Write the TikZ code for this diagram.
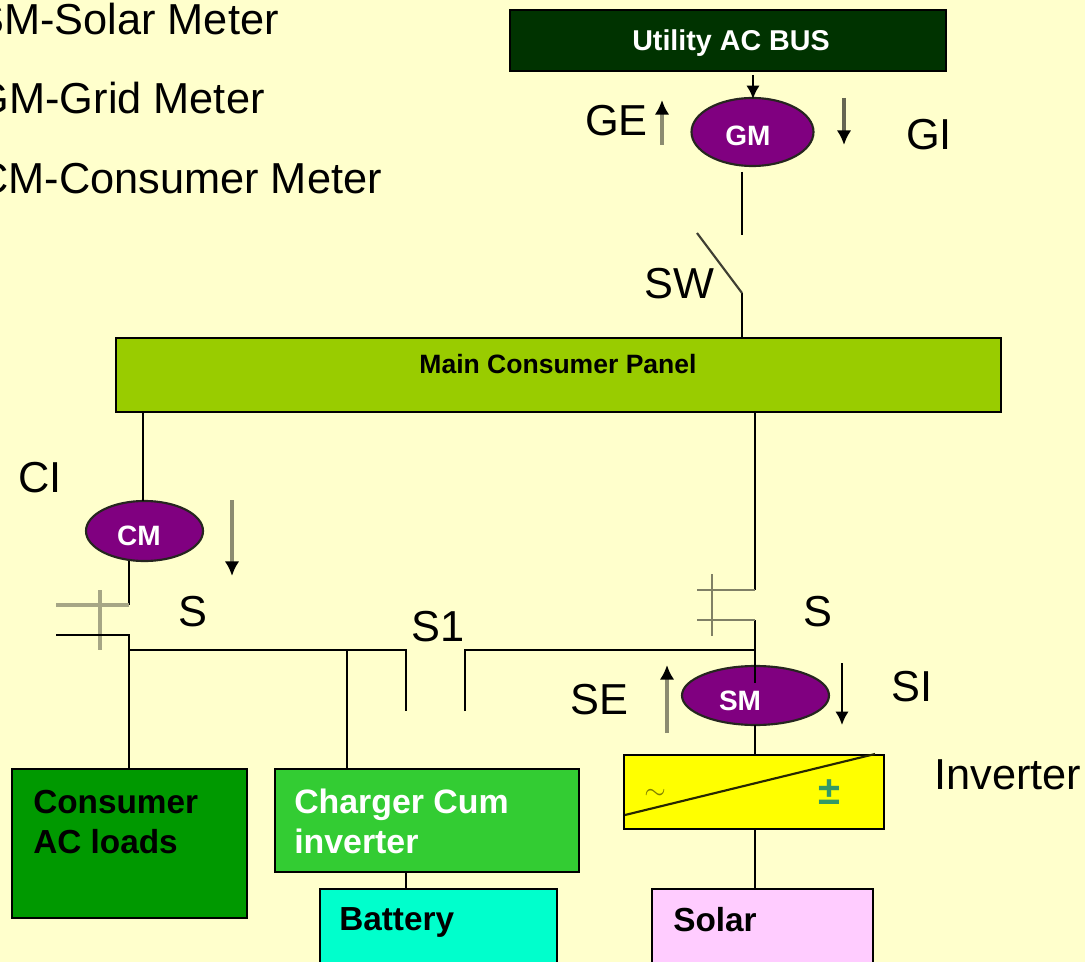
\documentclass[tikz,border=0pt]{standalone}
\usepackage{fontspec}
\setmainfont{Liberation Sans}
\usetikzlibrary{shapes.geometric,arrows.meta}
\definecolor{paper}{HTML}{FFFFCC}
\definecolor{busgreen}{HTML}{003300}
\definecolor{panelgreen}{HTML}{99CC00}
\definecolor{meterpurple}{HTML}{800080}
\definecolor{loadgreen}{HTML}{009900}
\definecolor{chargergreen}{HTML}{33CC33}
\definecolor{batterycyan}{HTML}{00FFCC}
\definecolor{solarpink}{HTML}{FFCCFF}
\definecolor{signteal}{HTML}{339966}
\definecolor{invyellow}{HTML}{FFFF00}
\tikzset{
	box/.style={draw=black,line width=1.9pt,rectangle,inner sep=0pt},
	meter/.style={draw=black!85!paper,line width=1.6pt,ellipse,fill=meterpurple,inner sep=0pt},
	wire/.style={line width=1.6pt,black},
	contact/.style={line width=2pt,black!50!paper},
	softcontact/.style={line width=3.2pt,black!35!paper},
	flow/.style={line width=3pt,black!45!paper,-{Latex[black,length=11pt,width=11pt]}},
	sharpflow/.style={line width=1.6pt,black,-{Latex[length=10pt,width=10pt]}},
	big/.style={font=\fontsize{32.5}{36}\selectfont,anchor=base west,inner sep=0pt},
	boxtext/.style={font=\bfseries\fontsize{25}{30}\selectfont,anchor=north west,align=left,inner sep=0pt},
	metertext/.style={font=\bfseries\fontsize{21}{24}\selectfont,text=white,inner sep=0pt}
}
\begin{document}
\begin{tikzpicture}[x=0.75pt,y=-0.75pt]
	\useasboundingbox (0,0) rectangle (1085,962);
	\clip (0,0) rectangle (1085,962);
	\fill[paper] (0,0) rectangle (1085,962);
	% meter legend
	\node[big] (legs) at (-25,35) {SM-Solar Meter};
	\node[big] (legg) at (-24.6,114) {GM-Grid Meter};
	\node[big] (legc) at (-23,194) {CM-Consumer Meter};
	% boxes
	\node[box,fill=busgreen,minimum width=327pt,minimum height=45.75pt] (bus) at (728,40.5) {};
	\node[font=\bfseries\fontsize{21.5}{24}\selectfont,text=white,inner sep=0pt] (bustext) at (731,43) {Utility AC BUS};
	\node[box,fill=panelgreen,minimum width=663.75pt,minimum height=55.5pt] (panel) at (558.5,375) {};
	\node[font=\bfseries\fontsize{19.9}{22}\selectfont,inner sep=0pt] (paneltext) at (558,364) {Main Consumer Panel};
	\node[box,fill=loadgreen,minimum width=176.25pt,minimum height=111.75pt] (loads) at (129.5,843.5) {};
	\node[boxtext] (loadstext) at (33,790) {Consumer\\AC loads};
	\node[box,fill=chargergreen,minimum width=228pt,minimum height=77.25pt] (charger) at (427,820.5) {};
	\node[boxtext,text=white,font=\bfseries\fontsize{25.4}{30}\selectfont] (chargertext) at (294,789) {Charger Cum\\inverter};
	\node[box,fill=batterycyan,minimum width=177.75pt,minimum height=75pt] (battery) at (438.5,939) {};
	\node[boxtext] (batterytext) at (339,907) {Battery};
	\node[box,fill=solarpink,minimum width=165.75pt,minimum height=75pt] (solar) at (762.5,939) {};
	\node[boxtext] (solartext) at (673,907) {Solar};
	\node[box,fill=invyellow,minimum width=195pt,minimum height=55.5pt] (inv) at (754,792) {};
	\draw[line width=1.6pt,black!85!invyellow] (625,815) -- (875,754);
	\node[font=\fontsize{21}{22}\selectfont,text=black!50!invyellow,inner sep=0pt] (invac) at (655,794) {$\sim$};
	\node[font=\bfseries\fontsize{30}{32}\selectfont,text=signteal,inner sep=0pt] (invdc) at (829,792) {±};
	% meters
	\node[meter,minimum width=91.5pt,minimum height=51pt] (gm) at (752.5,132) {};
	\node[metertext] (gmtext) at (748,136) {GM};
	\node[meter,minimum width=87.75pt,minimum height=45pt] (cm) at (144.5,531) {};
	\node[metertext] (cmtext) at (139,536) {CM};
	\node[meter,minimum width=110.25pt,minimum height=44.25pt] (sm) at (755.5,695.5) {};
	\node[metertext] (smtext) at (740,701) {SM};
	% free ends
	\coordinate (gmtop) at (753,75);
	\coordinate (gmout) at (742,172);
	\coordinate (swa) at (742,235);
	\coordinate (swb) at (742,293);
	\coordinate (swc) at (697,233);
	\coordinate (panelin) at (742,338);
	\coordinate (panell) at (143,412);
	\coordinate (panelr) at (755,412);
	\coordinate (cmin) at (143,501);
	\coordinate (cmout) at (129,561);
	\coordinate (ca) at (129,605);
	\coordinate (cb) at (56,605);
	\coordinate (cc) at (129,635);
	\coordinate (cd) at (56,635);
	\coordinate (ce) at (129,650);
	\coordinate (loadsin) at (129,769);
	\coordinate (tee) at (347,650);
	\coordinate (chargerin) at (347,769);
	\coordinate (sa) at (406,650);
	\coordinate (sb) at (406,711);
	\coordinate (sc) at (465,711);
	\coordinate (sd) at (465,650);
	\coordinate (se) at (755,650);
	\coordinate (ra) at (755,590);
	\coordinate (rb) at (697,590);
	\coordinate (rc) at (755,620);
	\coordinate (rd) at (697,620);
	\coordinate (smin) at (755,683);
	\coordinate (smout) at (755,725);
	\coordinate (invin) at (755,755);
	\coordinate (invout) at (755,829);
	\coordinate (solarin) at (755,889);
	\coordinate (chargerout) at (406,872);
	\coordinate (batteryin) at (406,889);
	% wires
	\draw[wire] (gmout)--(swa) (swb)--(panelin);
	\draw[line width=1.6pt,black!75!paper] (swc)--(swb);
	\draw[wire] (panell)--(cmin) (cmout)--(ca);
	\draw[softcontact] (ca)--(cb) (100,590)--(100,650);
	\draw[wire] (cd)--(cc)--(loadsin);
	\draw[wire] (ce)--(sa)--(sb) (sc)--(sd)--(se);
	\draw[wire] (tee)--(chargerin) (chargerout)--(batteryin);
	\draw[wire] (panelr)--(ra) (rc)--(smin) (smout)--(invin) (invout)--(solarin);
	\draw[contact] (ra)--(rb) (rc)--(rd) (712,574)--(712,636);
	% flow arrows
	\draw[sharpflow] (gmtop)--(753,99);
	\draw[flow] (662,145)--(662,100);
	\draw[flow,black!60!paper] (844,98)--(844,145);
	\draw[flow] (232,500)--(232,576);
	\draw[flow] (667,733)--(667,665);
	\draw[sharpflow] (842,663)--(842,725);
	% labels
	\node[big] (ge) at (585,136) {GE};
	\node[big] (gi) at (906,150) {GI};
	\node[big] (sw) at (644,299) {SW};
	\node[big] (ci) at (18,492) {CI};
	\node[big] (sl) at (178,626) {S};
	\node[big] (sone) at (411,641) {S1};
	\node[big] (sr) at (803,626) {S};
	\node[big] (sel) at (570,714) {SE};
	\node[big] (si) at (891,701) {SI};
	\node[big] (invlabel) at (934,789) {Inverter};
\end{tikzpicture}
\end{document}
